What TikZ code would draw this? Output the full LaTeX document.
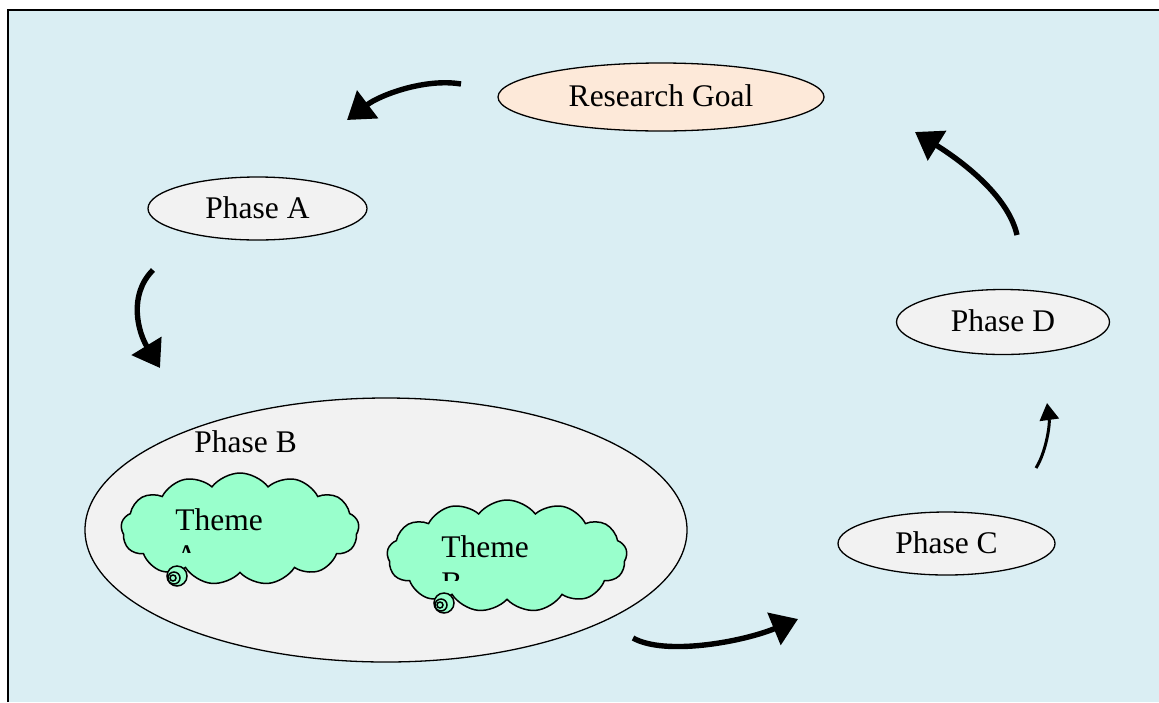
\documentclass[tikz,border=0pt]{standalone}
\usepackage{fontspec}
\setmainfont{Liberation Serif}
\usetikzlibrary{shapes.geometric,shapes.symbols,arrows.meta}
\definecolor{bgblue}{HTML}{DAEEF3}
\definecolor{goalfill}{HTML}{FDE9D9}
\definecolor{phasefill}{HTML}{F2F2F2}
\definecolor{themefill}{HTML}{99FFCC}

\begin{document}
\begin{tikzpicture}[
  x=0.5pt,y=-0.5pt,
  phase/.style={draw,ellipse,fill=phasefill,line width=0.65pt,inner sep=0pt,font=\fontsize{15.75}{18}\selectfont,text height=10.75pt,text depth=1.25pt},
  goal/.style={phase,fill=goalfill},
  theme/.style={draw,cloud,cloud puffs=13,cloud puff arc=105,cloud ignores aspect,fill=themefill,line width=0.75pt,inner sep=0pt},
  lbl/.style={font=\fontsize{15.75}{18}\selectfont,inner sep=0pt,anchor=base west},
  tailc/.style={draw,line width=0.75pt,fill=themefill},
  arr/.style={-{Triangle[length=13pt,width=17pt]},line width=2.7pt},
  arrthin/.style={-{Triangle[length=8.5pt,width=9.5pt]},line width=1.5pt}
]
\useasboundingbox (0,0) rectangle (1159,702);
\fill[white] (0,0) rectangle (1159,702);
\fill[bgblue] (8,10) rectangle (1159,702);
\draw[line width=0.8pt] (8,702) -- (8,10) -- (1159,10);

% the cycle of phases
\node[goal,minimum width=163pt,minimum height=34pt] (goal) at (661,97) {Research Goal};
\node[phase,minimum width=109.5pt,minimum height=31.5pt] (pa) at (257.5,208.5) {Phase A};
\node[phase,minimum width=301pt,minimum height=132pt] (pb) at (386,530) {};
\node[lbl] (pblbl) at (194,452) {Phase B};
\node[phase,minimum width=108.5pt,minimum height=31.5pt] (pc) at (946.5,543.5) {Phase C};
\node[phase,minimum width=106.5pt,minimum height=32.5pt] (pd) at (1003,322) {Phase D};

% themes inside phase B
\node[theme,minimum width=119pt,minimum height=56pt] (tha) at (240,529) {};
\draw[tailc] (177,576) circle[radius=5pt];
\draw[tailc] (174,578) circle[radius=3pt];
\draw[tailc] (173,578) circle[radius=1.5pt];
\node[lbl] (thalbl) at (175,530) {Theme};
\begin{scope}
  \clip (150,530) rectangle (260,552);
  \node[lbl] (thaend) at (175,566) {A};
\end{scope}

\node[theme,minimum width=120pt,minimum height=56pt] (thb) at (507,556) {};
\draw[tailc] (444,603) circle[radius=5pt];
\draw[tailc] (441,605) circle[radius=3pt];
\draw[tailc] (440,605) circle[radius=1.5pt];
\node[lbl] (thblbl) at (441,557) {Theme};
\begin{scope}
  \clip (420,557) rectangle (530,580);
  \node[lbl] (thbend) at (441,593) {B};
\end{scope}

% arrows
\coordinate (a1s) at (461,84);   \coordinate (a1e) at (347,120);
\coordinate (a2s) at (153,270);  \coordinate (a2e) at (160,368);
\coordinate (a3s) at (633,638);  \coordinate (a3e) at (798,619);
\coordinate (a4s) at (1036,468); \coordinate (a4e) at (1047,403);
\coordinate (a5s) at (1017,235); \coordinate (a5e) at (915,132);
\draw[arr] (a1s) .. controls (425,78) and (380,95) .. (a1e);
\draw[arr] (a2s) .. controls (128,295) and (138,332) .. (a2e);
\draw[arr] (a3s) .. controls (665,656) and (742,642) .. (a3e);
\draw[arrthin] (a4s) .. controls (1046,452) and (1050,425) .. (a4e);
\draw[arr] (a5s) .. controls (1008,195) and (960,160) .. (a5e);
\end{tikzpicture}
\end{document}
